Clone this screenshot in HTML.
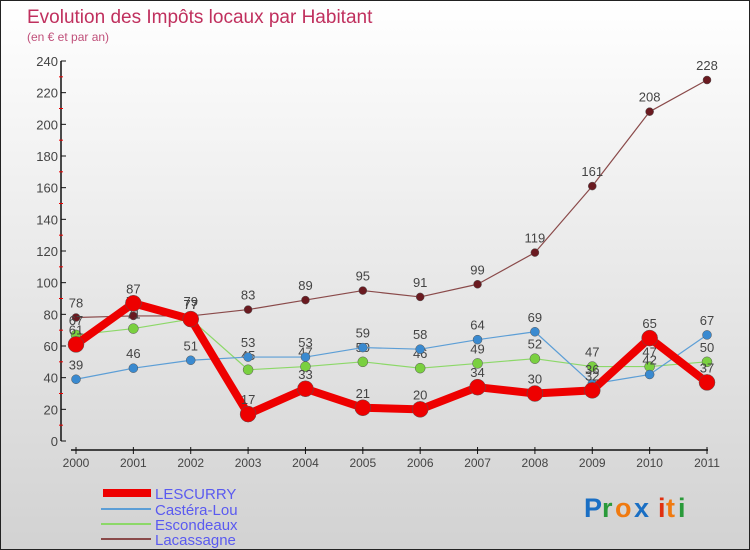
<!DOCTYPE html>
<html><head><meta charset="utf-8"><style>
body{margin:0}
#c{width:750px;height:550px;position:relative;overflow:hidden;box-sizing:border-box;border:1px solid #222;background:linear-gradient(#fff,#d2d2d2);font-family:"Liberation Sans","DejaVu Sans",sans-serif}
</style></head><body>
<div id="c">
<svg id="s" width="750" height="550" style="position:absolute;left:0;top:0">
<text x="26" y="22" font-size="19" fill="#c0305e">Evolution des Impôts locaux par Habitant</text>
<text x="26" y="40" font-size="12" fill="#c0507a">(en € et par an)</text>
<g id="axes"></g><g id="series"></g>
<g>
<line x1="102" y1="492" x2="150" y2="492" stroke="#e00" stroke-width="8"/>
<text x="154" y="498" font-size="15" fill="#5a5af0">LESCURRY</text>
<line x1="100" y1="508" x2="150" y2="508" stroke="#5c9ed6" stroke-width="2"/>
<text x="154" y="514" font-size="15" fill="#5a5af0">Castéra-Lou</text>
<line x1="100" y1="523" x2="150" y2="523" stroke="#8cd868" stroke-width="2"/>
<text x="154" y="529" font-size="15" fill="#5a5af0">Escondeaux</text>
<line x1="100" y1="538" x2="150" y2="538" stroke="#8a4a4a" stroke-width="2"/>
<text x="154" y="544" font-size="15" fill="#5a5af0">Lacassagne</text>
</g>
<g font-size="27" font-weight="bold">
<text x="583" y="516" fill="#1a6fc4">P</text><text x="601" y="516" fill="#2a9a3a">r</text><text x="614" y="516" fill="#f07a10">o</text><text x="633" y="516" fill="#1a6fc4">x</text><text x="657" y="516" fill="#e03010">i</text><text x="665" y="516" fill="#f07a10">t</text><text x="677" y="516" fill="#2a9a3a">i</text>
</g>
</svg>
</div>
<script>
const years=["2000","2001","2002","2003","2004","2005","2006","2007","2008","2009","2010","2011"];
const yTicks=[0,20,40,60,80,100,120,140,160,180,200,220,240];
const lescurry=[61,87,77,17,33,21,20,34,30,32,65,37];
const casteraLou=[39,46,51,53,53,59,58,64,69,36,42,67];
const escondeaux=[67,71,77,45,47,50,46,49,52,47,47,50];
const lacassagne=[78,79,79,83,89,95,91,99,119,161,208,228];
const NS="http://www.w3.org/2000/svg";
function X(i){return 75+i*(706-75)/11;}
function Y(v){return 440-v*(380/240);}
function mk(t,a,p){const e=document.createElementNS(NS,t);for(const k in a)e.setAttribute(k,a[k]);p.appendChild(e);return e;}
const ax=document.getElementById('axes');
const yl=mk('line',{x1:60,y1:60,x2:60,y2:440,stroke:'#111','stroke-width':1.5},ax);


yTicks.forEach(v=>{
 mk('line',{x1:60,y1:Y(v),x2:65,y2:Y(v),stroke:'#111'},ax);
 if(v<240)mk('line',{x1:58,y1:Y(v+10),x2:62,y2:Y(v+10),stroke:'#e00'},ax);
 const t=mk('text',{x:57,y:Y(v)+5,'text-anchor':'end','font-size':13,fill:'#444'},ax);
 t.textContent=v;
 
 
});
const xl=mk('line',{x1:70,y1:449,x2:707,y2:449,stroke:'#111','stroke-width':1.5},ax);


years.forEach((y,i)=>{
 mk('line',{x1:X(i),y1:446,x2:X(i),y2:453,stroke:'#111'},ax);
 const t=mk('text',{x:X(i),y:466,'text-anchor':'middle','font-size':12,fill:'#444'},ax);
 t.textContent=y;
 
 
});
const sg=document.getElementById('series');
function series(name,data,color,w,r,dot){
 const g=mk('g',{},sg);
 
 
 const pl=mk('polyline',{points:data.map((v,i)=>X(i)+','+Y(v)).join(' '),fill:'none',stroke:color,'stroke-width':w,'stroke-linejoin':'round'},g);
 
 
 data.forEach((v,i)=>{
  const c=mk('circle',{cx:X(i),cy:Y(v),r:r,fill:dot,stroke:'#555','stroke-width':0.5},g);
  
  
  const t=mk('text',{x:X(i),y:Y(v)-10,'text-anchor':'middle','font-size':13,fill:'#444'},g);
  t.textContent=v;
  
  
 });
}
series('lacassagne',lacassagne,'#8a4a4a',1.2,4,'#6a1a20');
series('escondeaux',escondeaux,'#8cd868',1.2,5,'#7ad040');
series('castera-lou',casteraLou,'#5c9ed6',1.2,4.5,'#3a8ad0');
series('lescurry',lescurry,'#ee0000',8,8,'#ee0000');
</script>
</body></html>
